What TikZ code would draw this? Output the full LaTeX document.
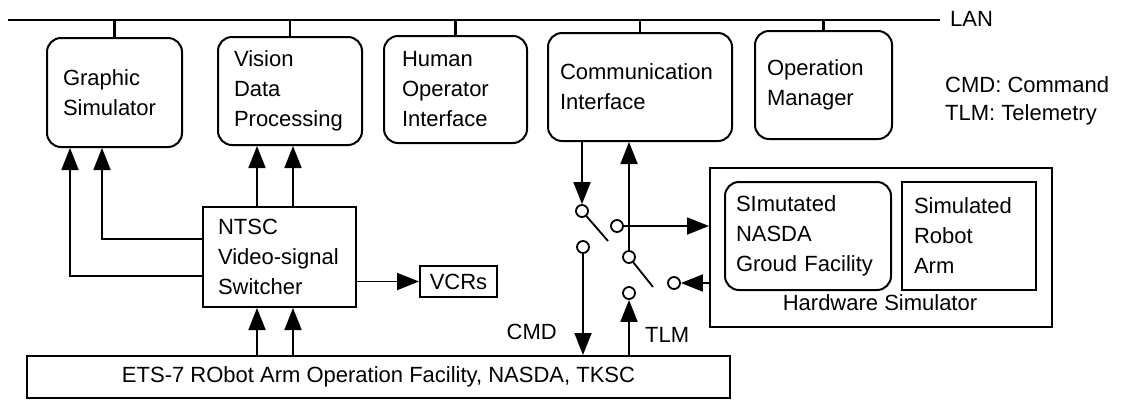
\documentclass[tikz,border=0pt]{standalone}
\usepackage{fontspec}
\setmainfont{Liberation Sans}
\usetikzlibrary{arrows.meta}
\begin{document}
\begin{tikzpicture}[x=1pt,y=-1pt,
  every node/.style={font=\fontsize{22}{30}\selectfont, inner sep=0pt},
  rbox/.style={draw, line width=2pt, rounded corners=14pt, align=left},
  sbox/.style={draw, line width=2pt, align=left},
  arr/.style={line width=1.8pt, -{Triangle[length=22pt,width=17pt]}},
  wire/.style={line width=1.8pt},
  bus/.style={line width=2.8pt},
  sw/.style={circle, draw, line width=1.8pt, fill=white, minimum size=12pt, inner sep=0pt},
]
\useasboundingbox (0,0) rectangle (1121,400);

% LAN bus
\coordinate (lanA) at (8,20);
\coordinate (lanB) at (940,20);
\draw[bus] (lanA) -- (lanB);
\node[anchor=base west] (lanlbl) at (950,26) {LAN};

% top boxes
\node[rbox, inner xsep=16pt, text width=103pt, minimum height=109pt] (gs) at (114.5,92.5) {Graphic\\Simulator};
\node[rbox, inner xsep=16pt, text width=112pt, minimum height=108pt] (vdp) at (290,91) {Vision\\Data\\Processing};
\node[rbox, inner xsep=18pt, text width=107pt, minimum height=107pt] (hoi) at (455.5,89.5) {Human\\Operator\\Interface};
\node[rbox, inner xsep=12pt, text width=160pt, minimum height=108pt] (ci) at (640,87) {Communication\\Interface};
\node[rbox, inner xsep=12pt, text width=113pt, minimum height=108pt] (om) at (823.5,85) {Operation\\Manager};

\foreach \b in {gs,vdp,hoi,ci,om}{
  \draw[bus] (\b.north) -- (\b.north |- lanA);
}

% legend
\node[anchor=base west] (leg1) at (945,92) {CMD: Command};
\node[anchor=base west] (leg2) at (945,120) {TLM: Telemetry};

% NTSC switcher and VCRs
\node[sbox, inner xsep=15pt, text width=123pt, minimum height=100pt] (ntsc) at (279.5,257) {NTSC\\Video-signal\\Switcher};
\node[sbox, minimum width=77pt, minimum height=31pt] (vcr) at (458.5,281.5) {VCRs};

% ETS facility
\node[sbox, minimum width=703pt, minimum height=42pt] (ets) at (378.5,377) {ETS-7 RObot Arm Operation Facility, NASDA, TKSC};

% Hardware simulator
\node[sbox, minimum width=342pt, minimum height=159pt] (hw) at (881,247.5) {};
\node[rbox, inner xsep=11pt, text width=144pt, minimum height=108pt] (gf) at (808,236) {SImutated\\NASDA\\Groud Facility};
\node[sbox, inner xsep=12pt, text width=110pt, minimum height=108pt] (ra) at (969,236) {Simulated\\Robot\\Arm};
\node[anchor=base] (hwlbl) at (880,310) {Hardware Simulator};

% video connections
\draw[arr] ([yshift=18pt]ntsc.west) -| ([xshift=-12.5pt]gs.south);
\draw[arr] ([yshift=-19pt]ntsc.west) -| ([xshift=-44.5pt]gs.south);
\draw[arr] ([xshift=-22.5pt]ntsc.north) -- ([xshift=-22.5pt]ntsc.north |- vdp.south);
\draw[arr] ([xshift=13.5pt]ntsc.north) -- ([xshift=13.5pt]ntsc.north |- vdp.south);
\draw[arr] ([xshift=-22.5pt]ntsc.south |- ets.north) -- ([xshift=-22.5pt]ntsc.south);
\draw[arr] ([xshift=13.5pt]ntsc.south |- ets.north) -- ([xshift=13.5pt]ntsc.south);
\draw[arr] (ntsc.east |- vcr.west) -- (vcr.west);

% switches
\node[sw] (c1) at (582,211) {};
\node[sw] (c2) at (617,226) {};
\node[sw] (c3) at (583,247) {};
\node[sw] (c4) at (629,257) {};
\node[sw] (c5) at (629,293) {};
\node[sw] (c6) at (674,283) {};
\coordinate (b1) at (608,241);
\coordinate (b2) at (653,287);

\draw[arr] (c1 |- ci.south) -- (c1);
\draw[wire] (c1) -- (b1);
\draw[arr] (c2) -- (c2 -| hw.west);
\draw[arr] (c3) -- (c3 |- ets.north);
\draw[arr] (c5 |- ets.north) -- (c5);
\draw[arr] (c4) -- (c4 |- ci.south);
\draw[wire] (c4) -- (b2);
\draw[arr] (c6 -| hw.west) -- (c6);

\node[anchor=base east] (cmdlbl) at (557,339) {CMD};
\node[anchor=base west] (tlmlbl) at (645,342) {TLM};
\end{tikzpicture}
\end{document}
